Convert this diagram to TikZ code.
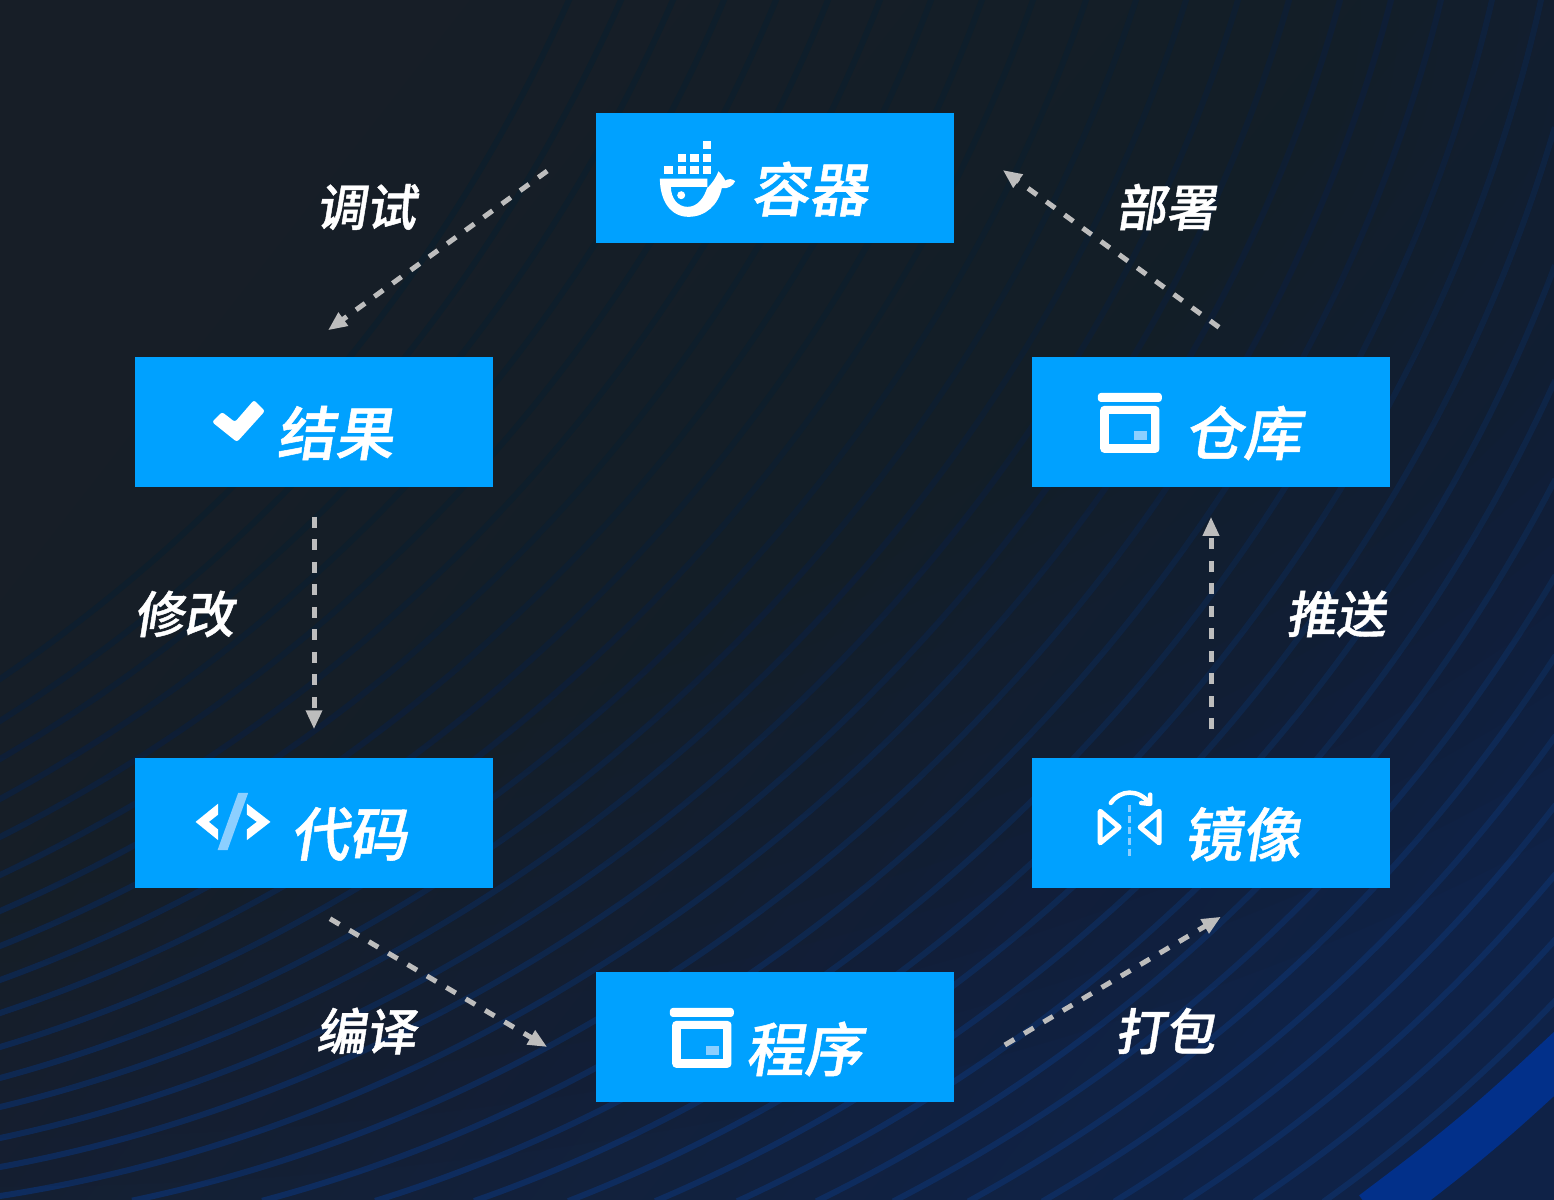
\documentclass[tikz,border=0pt]{standalone}
\usepackage{fontspec}
\usetikzlibrary{arrows.meta}
\newfontfamily\titlefont[FakeSlant=0.16,FakeBold=0.9]{Noto Sans CJK SC Medium}

\definecolor{bgdark}{HTML}{171E27}
\definecolor{bgmid}{HTML}{141F2E}
\definecolor{bgblue}{HTML}{0F2247}
\definecolor{arcblue}{HTML}{0E2C5E}
\definecolor{bandblue}{HTML}{02308A}
\definecolor{boxblue}{HTML}{00A1FF}
\definecolor{iconlight}{HTML}{8CCFFF}
\definecolor{flowgray}{HTML}{BDBDBD}

\tikzset{
    stagebox/.style={fill=boxblue, minimum width=3.58cm, minimum height=1.3cm, inner sep=0pt},
    stagetext/.style={text=white, inner sep=0pt, font=\titlefont\fontsize{16.6}{20}\selectfont},
    flowtext/.style={text=white, inner sep=0pt, font=\titlefont\fontsize{14.2}{18}\selectfont},
    flow/.style={draw=flowgray, line width=0.05cm, dash pattern=on 0.11cm off 0.115cm, -{Triangle[length=0.19cm,width=0.155cm]}},
    icon/.style={x=0.003333cm, y=-0.003333cm},
    arc/.style={draw=arcblue, line width=0.06cm, line cap=rect},
}

\newcommand{\boxicon}{
    \fill[white, rounded corners=0.03cm] (198,108) rectangle (390,135);
    \fill[white, rounded corners=0.04cm] (205,147) -- (383,147) -- (383,288) -- (205,288) -- cycle;
    \fill[boxblue] (232,172) rectangle (358,260);
    \fill[iconlight] (306,222) rectangle (346,248);
}

\begin{document}
\begin{tikzpicture}[x=0.01cm, y=-0.01cm, >=Latex]

\useasboundingbox (0,0) rectangle (1554,1200);
\clip (0,0) rectangle (1554,1200);

% ---- Background ----
\shade[top color=bgdark, middle color=bgmid, bottom color=bgblue, shading angle=52] (0,0) rectangle (1554,1200);

% ---- Thin arcs (bottom or left end / right or top end) ----
\foreach \xa/\ya/\xb/\yb in {1326/1200/1554/1002, 1257/1200/1554/941, 1187/1200/1554/876, 1117/1200/1554/807,
    1045/1200/1554/738, 971/1200/1554/658, 896/1200/1554/578, 819/1200/1554/482, 740/1200/1554/383,
    658/1200/1554/268, 571/1200/1554/130, 477/1200/1541/0, 378/1200/1492/0, 265/1200/1441/0, 135/1200/1391/0,
    0/1196/1340/0, 0/1167/1289/0, 0/1138/1238/0, 0/1107/1186/0, 0/1078/1136/0, 0/1047/1086/0, 0/1013/1033/0,
    0/980/982/0, 0/946/931/0, 0/911/880/0, 0/875/828/0, 0/837/776/0, 0/799/724/0, 0/759/673/0, 0/721/621/0, 0/679/569/0} {
    \pgfmathsetmacro\bendang{asin(veclen(\xb-\xa,\yb-\ya)/3300)}
    \draw[arc] (\xa,\ya) to[bend right=\bendang, looseness=0.88] (\xb,\yb);
}

% ---- Wide arc in the corner ----
\draw[draw=bandblue, line width=0.47cm, line cap=rect] (1392,1200) to[bend right=3] (1554,1064);

% ---- Arcs die out towards the upper left ----
\foreach \r in {.9125,.875,.8375,.8,.77,.74,.71,.68,.65,.633,.617,.6,.583,.567,.55,.535,.52,.505,.49,.475,.46,.445} {
    \fill[bgdark, opacity=0.08] (0,0) ellipse [x radius=2400*\r, y radius=1300*\r];
}

% ---- Stage boxes ----
\foreach \x/\y/\nm in {775/178/rongqi, 314/422/jieguo, 1211/422/cangku, 314/823/daima, 1211/823/jingxiang, 775/1037/chengxu} {
    \node[stagebox] (\nm) at (\x,\y) {};
}

% ---- Stage names ----
\foreach \x/\y/\nm/\lab in {809/189/rongqitxt/容器, 335/433/jieguotxt/结果, 1243/433/cangkutxt/仓库,
    349/834/daimatxt/代码, 1242/834/jingxiangtxt/镜像, 804/1049/chengxutxt/程序} {
    \node[stagetext] (\nm) at (\x,\y) {\lab};
}

% ---- Flow arrows ----
\draw[flow] ([shift={(-48,-7)}]rongqi.west) -- ([shift={(14,-26)}]jieguo.north);
\draw[flow] ([shift={(0,29)}]jieguo.south) -- ([shift={(0,-28)}]daima.north);
\draw[flow] ([shift={(16,30)}]daima.south) -- ([shift={(-48,10)}]chengxu.west);
\draw[flow] ([shift={(50,8)}]chengxu.east) -- ([shift={(10,28)}]jingxiang.south);
\draw[flow] ([shift={(0,-28)}]jingxiang.north) -- ([shift={(0,29)}]cangku.south);
\draw[flow] ([shift={(8,-29)}]cangku.north) -- ([shift={(48,-8)}]rongqi.east);

% ---- Flow labels ----
\node[flowtext] (tiaoshi) at (366,207) {调试};
\node[flowtext] (xiugai) at (184,614) {修改};
\node[flowtext] (bianyi) at (366,1031) {编译};
\node[flowtext] (dabao) at (1165,1031) {打包};
\node[flowtext] (tuisong) at (1336,614) {推送};
\node[flowtext] (bushu) at (1166,207) {部署};

% ---- Whale icon ----
\begin{scope}[shift={(596,113)}, icon]
    \foreach \x/\y in {320/85, 245/122, 283/122, 320/122, 205/160, 245/160, 283/160, 320/160} {
        \fill[white] (\x,\y) rectangle ++(25,24);
    }
    \fill[white, even odd rule] (192,197) -- (335,197) -- (335,225)
        .. controls (345,215) and (358,200) .. (368,175)
        .. controls (378,185) and (385,195) .. (388,203)
        .. controls (398,197) and (410,197) .. (418,205)
        .. controls (412,220) and (395,228) .. (378,226)
        .. controls (368,275) and (330,312) .. (278,312)
        .. controls (225,312) and (192,265) .. (192,197) -- cycle
        (225,222) -- (335,222)
        .. controls (325,255) and (305,282) .. (275,282)
        .. controls (245,282) and (225,255) .. (225,222) -- cycle;
    \fill[white] (256,247) circle (12);
\end{scope}

% ---- Check icon ----
\fill[white, rounded corners=0.025cm] (212,422) -- (222,412) -- (235,422) -- (254,400) -- (265,411) -- (237,442) -- cycle;

% ---- Code icon ----
\begin{scope}[shift={(135,758)}, icon]
    \fill[white] (182,192) -- (250,137) -- (250,170) -- (222,192) -- (250,215) -- (250,247) -- cycle;
    \fill[white] (407,192) -- (336,137) -- (336,170) -- (366,192) -- (336,215) -- (336,247) -- cycle;
    \fill[iconlight] (310,105) -- (340,105) -- (278,277) -- (248,277) -- cycle;
\end{scope}

% ---- Mirror icon ----
\begin{scope}[shift={(1032,758)}, icon]
    \draw[white, line width=0.05cm, line join=round] (205,160) -- (262,208) -- (205,255) -- cycle;
    \draw[white, line width=0.05cm, line join=round] (382,160) -- (325,208) -- (382,255) -- cycle;
    \draw[iconlight, line width=0.035cm, dash pattern=on 0.07cm off 0.04cm] (293,140) -- (293,297);
    \draw[white, line width=0.045cm, line cap=round] (237,135) .. controls (265,95) and (320,92) .. (353,136);
    \draw[white, line width=0.045cm, line cap=round, line join=round] (355,110) -- (355,138) -- (328,135);
\end{scope}

% ---- Box icons ----
\begin{scope}[shift={(1032,357)}, icon]
    \boxicon
\end{scope}
\begin{scope}[shift={(604,972)}, icon]
    \boxicon
\end{scope}

\end{tikzpicture}
\end{document}
